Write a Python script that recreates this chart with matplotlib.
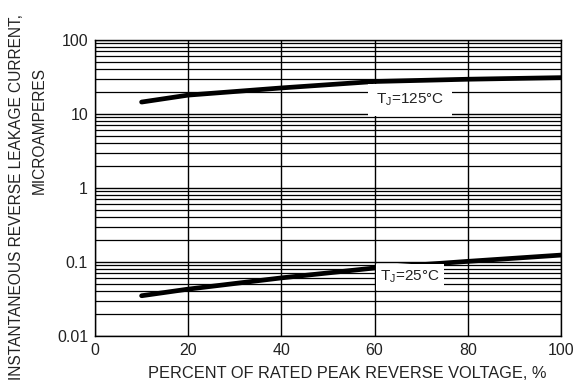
import matplotlib
matplotlib.use("Agg")
import matplotlib.pyplot as plt
from matplotlib.ticker import FixedLocator, NullFormatter

# Percent of rated peak reverse voltage
voltage_pct = [10, 20, 40, 60, 80, 100]
# Leakage current in microamperes
leak_125c = [14.5, 18.0, 22.5, 27.5, 29.5, 31.0]
leak_25c = [0.035, 0.043, 0.061, 0.083, 0.102, 0.124]

x_ticks = [0, 20, 40, 60, 80, 100]
y_ticks = [0.01, 0.1, 1, 10, 100]
y_tick_labels = ["0.01", "0.1", "1", "10", "100"]

plt.rcParams["font.family"] = ["Liberation Sans", "DejaVu Sans"]
plt.rcParams["mathtext.fontset"] = "custom"
plt.rcParams["mathtext.rm"] = "Liberation Sans"
plt.rcParams["mathtext.it"] = "Liberation Sans"

text_color = "#222222"

fig = plt.figure(figsize=(5.74, 3.92), dpi=100)
ax = fig.add_axes([95 / 574, 1 - 336 / 392, (561 - 95) / 574, (336 - 40) / 392])

ax.set_yscale("log")
ax.set_xlim(0, 100)
ax.set_ylim(0.01, 100)

ax.set_xticks(x_ticks)
ax.set_yticks(y_ticks)
ax.set_yticklabels(y_tick_labels)
minor = [m * 10.0 ** e for e in range(-2, 2) for m in range(2, 10)]
ax.yaxis.set_minor_locator(FixedLocator(minor))
ax.yaxis.set_minor_formatter(NullFormatter())

ax.grid(True, which="major", axis="both", color="black", lw=1.0)
ax.grid(True, which="minor", axis="y", color="black", lw=0.9)
ax.tick_params(axis="both", which="both", length=0, labelsize=11.5, colors=text_color, pad=5)
for s in ax.spines.values():
    s.set_color("black")
    s.set_linewidth(1.0)

ax.plot(voltage_pct, leak_125c, color="black", lw=3.4, solid_capstyle="round", zorder=3)
ax.plot(voltage_pct, leak_25c, color="black", lw=3.4, solid_capstyle="round", zorder=3)

ax.text(67.6, 15.5, r"T$_{\rm J}$=125°C", ha="center", va="center", fontsize=11,
        color=text_color, bbox=dict(facecolor="white", edgecolor="none", boxstyle="square,pad=0.5"),
        zorder=4)
ax.text(67.6, 0.063, r"T$_{\rm J}$=25°C", ha="center", va="center", fontsize=11,
        color=text_color, bbox=dict(facecolor="white", edgecolor="none", boxstyle="square,pad=0.3"),
        zorder=4)

fig.text(347 / 574, 1 - 374 / 392, "PERCENT OF RATED PEAK REVERSE VOLTAGE, %",
         ha="center", va="center", fontsize=11.8, color=text_color)
fig.text(17 / 574, 1 - 197 / 392, "INSTANTANEOUS REVERSE LEAKAGE CURRENT,",
         ha="center", va="center", rotation=90, fontsize=11.2, color=text_color)
fig.text(39 / 574, 1 - 130 / 392, "MICROAMPERES",
         ha="center", va="center", rotation=90, fontsize=11.2, color=text_color)

fig.savefig("out.png", dpi=100)
